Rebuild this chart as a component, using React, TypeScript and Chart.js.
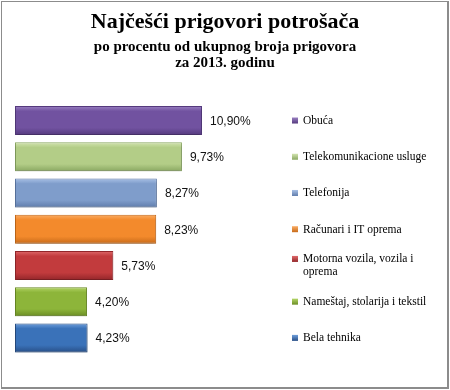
import React, { useEffect, useRef } from "react";
import { Chart, registerables } from "chart.js";

Chart.register(...registerables);

const categories = [
  "Obuća",
  "Telekomunikacione usluge",
  "Telefonija",
  "Računari i IT oprema",
  "Motorna vozila, vozila i oprema",
  "Nameštaj, stolarija i tekstil",
  "Bela tehnika",
];
const values = [10.9, 9.73, 8.27, 8.23, 5.73, 4.2, 4.23];
// [light top, base, dark bottom]
const barColors = [
  ["#9a80c2", "#7152a0", "#553a7e"],
  ["#d3e4b0", "#b3cd87", "#8aa862"],
  ["#a9c1e6", "#7f9dcb", "#5f7cab"],
  ["#fbae66", "#f38a2c", "#c76a19"],
  ["#e06a6b", "#c23b3d", "#93262a"],
  ["#b4d668", "#8db53a", "#6b8d25"],
  ["#6f9fdc", "#3a72b9", "#284f87"],
];
const titleText = "Najčešći prigovori potrošača";
const subtitleLines = ["po procentu od ukupnog broja prigovora", "za 2013. godinu"];

const fmt = (v: number) => v.toFixed(2).replace(".", ",") + "%";

export default function App() {
  const ref = useRef<HTMLCanvasElement>(null);
  useEffect(() => {
    document.body.style.margin = "0";
    const canvas = ref.current!;
    const shadowPlugin = {
      id: "barShadow",
      beforeDatasetDraw(chart: any) {
        const c = chart.ctx;
        c.save();
        c.shadowColor = "rgba(0,0,0,0.28)";
        c.shadowBlur = 3;
        c.shadowOffsetY = 2;
        c.shadowOffsetX = 0;
      },
      afterDatasetDraw(chart: any) {
        chart.ctx.restore();
      },
    };
    const labelsPlugin = {
      id: "valueLabels",
      afterDatasetsDraw(chart: any) {
        const c = chart.ctx;
        const meta = chart.getDatasetMeta(0);
        c.save();
        c.font = "12px 'Liberation Sans', Arial, sans-serif";
        c.fillStyle = "#111";
        c.textBaseline = "middle";
        c.textAlign = "left";
        meta.data.forEach((el: any, i: number) => {
          c.fillText(fmt(values[i]), el.x + 8, el.y + 1);
        });
        c.restore();
      },
    };
    const legendPlugin = {
      id: "sideLegend",
      afterDraw(chart: any) {
        const c = chart.ctx;
        const yScale = chart.scales.y;
        c.save();
        c.font = "11.5px 'Liberation Serif', 'Times New Roman', serif";
        c.fillStyle = "#000";
        c.textBaseline = "middle";
        const tx = 303;
        const maxW = 140;
        categories.forEach((name, i) => {
          const words = name.split(" ");
          const lines: string[] = [];
          let cur = "";
          words.forEach((w) => {
            const t = cur ? cur + " " + w : w;
            if (c.measureText(t).width > maxW && cur) {
              lines.push(cur);
              cur = w;
            } else cur = t;
          });
          if (cur) lines.push(cur);
          const cy = yScale.getPixelForValue(i);
          const lh = 13;
          const y0 = cy - ((lines.length - 1) * lh) / 2;
          const col = barColors[i];
          const g = c.createLinearGradient(0, y0 - 3, 0, y0 + 3);
          g.addColorStop(0, col[0]);
          g.addColorStop(1, col[2]);
          c.fillStyle = g;
          c.fillRect(292, y0 - 3, 6, 6);
          c.fillStyle = "#000";
          lines.forEach((ln, k) => c.fillText(ln, tx, y0 + k * lh + 0.5));
        });
        c.restore();
      },
    };
    const chart = new Chart(canvas, {
      type: "bar",
      data: {
        labels: categories,
        datasets: [
          {
            data: values,
            backgroundColor: (ctx: any) => {
              const ch = ctx.chart;
              const col = barColors[ctx.dataIndex] || barColors[0];
              const ys = ch.scales && ch.scales.y;
              if (!ch.chartArea || !ys) return col[1];
              const y = ys.getPixelForValue(ctx.dataIndex);
              const h = 14.5;
              const g = ch.ctx.createLinearGradient(0, y - h, 0, y + h);
              g.addColorStop(0, col[0]);
              g.addColorStop(0.18, col[1]);
              g.addColorStop(0.75, col[1]);
              g.addColorStop(1, col[2]);
              return g;
            },
            borderColor: barColors.map((c) => c[2]),
            borderWidth: 1,
            borderSkipped: false,
            barPercentage: 0.8,
            categoryPercentage: 1,
          },
        ],
      },
      options: {
        indexAxis: "y",
        responsive: false,
        animation: false,
        layout: { padding: { left: 15, right: 15, top: 0, bottom: 34 } },
        scales: {
          x: { display: false, min: 0, max: 24.48 },
          y: { display: false },
        },
        plugins: {
          legend: { display: false },
          tooltip: { enabled: false },
          title: {
            display: true,
            text: titleText,
            color: "#000",
            font: { family: "'Liberation Serif', 'Times New Roman', serif", size: 22, weight: "bold", lineHeight: 1.2 },
            padding: { top: 9, bottom: 0 },
          },
          subtitle: {
            display: true,
            text: subtitleLines,
            color: "#000",
            font: { family: "'Liberation Serif', 'Times New Roman', serif", size: 15, weight: "bold", lineHeight: 1.1 },
            padding: { top: 3, bottom: 31 },
          },
        },
      },
      plugins: [shadowPlugin, labelsPlugin, legendPlugin],
    } as any);
    return () => chart.destroy();
  }, []);
  return (
    <div style={{ position: "absolute", left: 0, top: 0, width: 450, height: 390, background: "#fff" }}>
      <canvas ref={ref} width={450} height={390} style={{ position: "absolute", left: 0, top: 0 }} />
      <div
        style={{
          position: "absolute",
          left: 1,
          top: 1,
          width: 445,
          height: 385,
          border: "1px solid #8c8c8c",
          borderRight: "2px solid #8c8c8c",
          borderBottom: "2px solid #8c8c8c",
          pointerEvents: "none",
        }}
      />
    </div>
  );
}
